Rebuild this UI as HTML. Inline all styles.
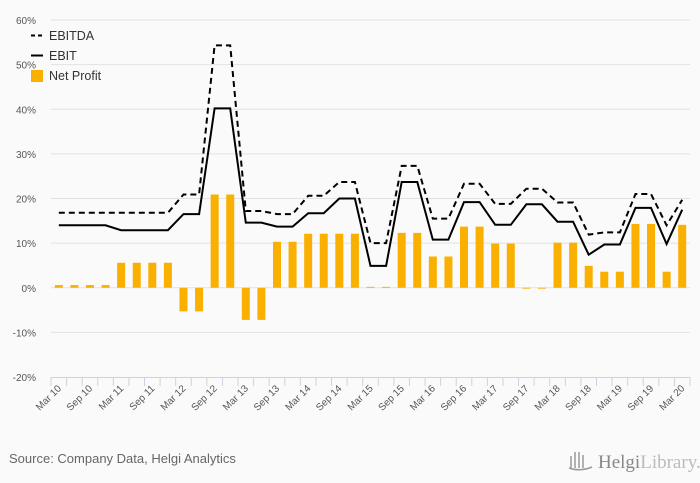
<!DOCTYPE html>
<html><head><meta charset="utf-8"><style>
body{margin:0;background:#fafafa;}
svg{display:block;font-family:"Liberation Sans",sans-serif;}
</style></head><body>
<svg id="chart" width="700" height="483">
<rect width="700" height="483" fill="#fafafa"/>
<g id="grid"></g><g id="bars"></g><g id="lines"></g><g id="axes"></g>
<g>
<line x1="31" y1="35.5" x2="43" y2="35.5" stroke="#000" stroke-width="2" stroke-dasharray="4,3"/>
<text x="49" y="40" font-size="12.5" fill="#333">EBITDA</text>
<line x1="31" y1="55.5" x2="43" y2="55.5" stroke="#000" stroke-width="2"/>
<text x="49" y="60" font-size="12.5" fill="#333">EBIT</text>
<rect x="31" y="70" width="12" height="12" fill="#f9b000"/>
<text x="49" y="80" font-size="12.5" fill="#333">Net Profit</text>
</g>
<text x="9" y="463" font-size="13" fill="#666">Source: Company Data, Helgi Analytics</text>
<g>
<g stroke="#999" stroke-width="1.5" fill="none"><line x1="571" y1="456" x2="571" y2="468"/><line x1="575" y1="452" x2="575" y2="468"/><line x1="579" y1="452" x2="579" y2="468"/><line x1="583" y1="455" x2="583" y2="468"/><path d="M569 468 Q580 472 592 467"/></g>
<text x="598" y="468" font-family="Liberation Serif,serif" font-size="19" fill="#888">Helgi<tspan fill="#bbb">Library.</tspan></text>
</g>
</svg>
<script>
const categories=[];
const yrs=['10','11','12','13','14','15','16','17','18','19','20'];
const qs=['Mar','Jun','Sep','Dec'];
for(const y of yrs){for(const q of qs){if(categories.length<41)categories.push(q+' '+y);}}
const netProfit=[0.6,0.6,0.6,0.6,5.6,5.6,5.6,5.6,-5.3,-5.3,20.9,20.9,-7.2,-7.2,10.3,10.3,12.1,12.1,12.1,12.1,0.2,0.2,12.3,12.3,7.0,7.0,13.7,13.7,9.9,9.9,-0.2,-0.2,10.1,10.1,4.9,3.6,3.6,14.3,14.3,3.6,14.1];
const ebit=[14.0,14.0,14.0,14.0,12.9,12.9,12.9,12.9,16.5,16.5,40.2,40.2,14.6,14.6,13.7,13.7,16.7,16.7,20.0,20.0,4.9,4.9,23.7,23.7,10.8,10.8,19.2,19.2,14.1,14.1,18.7,18.7,14.8,14.8,7.4,9.7,9.7,17.9,17.9,9.8,17.5];
const ebitda=[16.8,16.8,16.8,16.8,16.8,16.8,16.8,16.8,20.9,20.9,54.3,54.3,17.2,17.2,16.5,16.5,20.6,20.6,23.7,23.7,10.0,10.0,27.3,27.3,15.5,15.5,23.3,23.3,18.8,18.8,22.2,22.2,19.1,19.1,11.9,12.4,12.4,21.0,21.0,14.0,19.7];
const yTicks=[-20,-10,0,10,20,30,40,50,60];
const NS='http://www.w3.org/2000/svg';
const X0=51,X1=690,Y0=377,Y1=20;
const bw=(X1-X0)/categories.length;
const xs=i=>X0+bw*(i+0.5);
const ys=v=>Y0-(v-(-20))/80*(Y0-Y1);
function mk(tag,attrs,parent){const e=document.createElementNS(NS,tag);for(const k in attrs)e.setAttribute(k,attrs[k]);document.getElementById(parent).appendChild(e);return e;}
yTicks.forEach(t=>{
 if(t>-20){const l=mk('line',{x1:X0,x2:X1,y1:ys(t),y2:ys(t),stroke:'#e2e2e2','stroke-width':1},'grid');
 
 }
 const tx=mk('text',{x:36,y:ys(t)+4,'font-size':10,fill:'#555','text-anchor':'end'},'axes');
 tx.textContent=t+'%';
 
 
});
netProfit.forEach((v,i)=>{
 const y=Math.min(ys(v),ys(0)),h=Math.max(Math.abs(ys(v)-ys(0)),0.8);
 const r=mk('rect',{x:xs(i)-4,y:y,width:8,height:h,fill:'#f9b000'},'bars');
 
 
});
function path(arr){return arr.map((v,i)=>(i?'L':'M')+xs(i).toFixed(1)+' '+ys(v).toFixed(1)).join(' ');}
const p1=mk('path',{d:path(ebitda),fill:'none',stroke:'#000','stroke-width':2,'stroke-dasharray':'6,4'},'lines');


const p2=mk('path',{d:path(ebit),fill:'none',stroke:'#000','stroke-width':2},'lines');


const ax=mk('line',{x1:X0,x2:X1,y1:Y0+0.5,y2:Y0+0.5,stroke:'#c8d4e6'},'axes');


for(let i=0;i<=categories.length;i++){
 const t=mk('line',{x1:X0+bw*i,x2:X0+bw*i,y1:Y0,y2:Y0+9,stroke:'#c8d4e6'},'axes');
 
 
}
categories.forEach((c,i)=>{
 if(i%2)return;
 const x=xs(i)+3,y=Y0+12;
 const t=mk('text',{x:x,y:y,'font-size':10,fill:'#555','text-anchor':'end',transform:'rotate(-45 '+x+' '+y+')'},'axes');
 t.textContent=c;
 
 
});
</script>
</body></html>
